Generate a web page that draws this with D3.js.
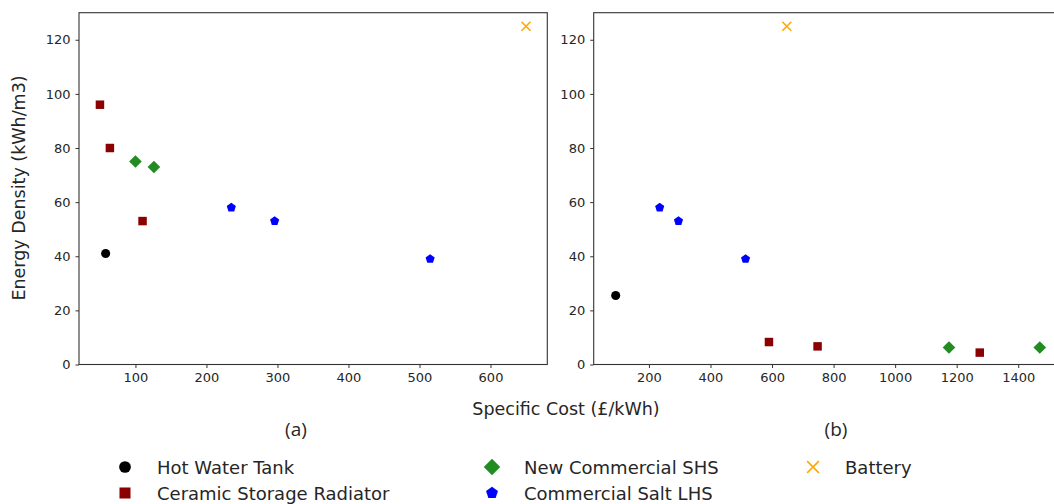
<!DOCTYPE html>
<html>
<head>
<meta charset="utf-8">
<script src="https://cdn.jsdelivr.net/npm/d3@7"></script>
<style>
  html, body { margin: 0; padding: 0; background: #fff; overflow: hidden; }
  svg { display: block; }
  text { font-family: "DejaVu Sans", sans-serif; fill: #262626; }
</style>
</head>
<body>
<svg id="chart" width="1054" height="504"></svg>
<script>
// Storage technologies: specific cost (£/kWh) vs energy density (kWh/m3)
const seriesNames = ["Hot Water Tank", "Ceramic Storage Radiator", "New Commercial SHS", "Commercial Salt LHS", "Battery"];

// Panel (a)
const hotWaterA   = [[58, 41]];
const ceramicA    = [[50, 96], [64, 80], [110, 53]];
const newShsA     = [[100, 75], [126, 73]];
const saltLhsA    = [[235, 58], [296, 53], [515, 39]];
const batteryA    = [[650, 125]];

// Panel (b)
const hotWaterB   = [[92, 25.5]];
const ceramicB    = [[590, 8.3], [748, 6.7], [1275, 4.4]];
const newShsB     = [[1175, 6.3], [1470, 6.3]];
const saltLhsB    = [[235, 58], [296, 53], [514, 39]];
const batteryB    = [[648, 125]];

const xTicksA = [100, 200, 300, 400, 500, 600];
const xTicksB = [200, 400, 600, 800, 1000, 1200, 1400];
const yTicks  = [0, 20, 40, 60, 80, 100, 120];

const colors  = ["#000000", "#8b0000", "#228b22", "#0000ff", "#ffa500"];
const symbols = ["circle", "square", "diamond", "pentagon", "x"];

const svg = d3.select("#chart");

function pentagonPath(r) {
  const pts = d3.range(5).map(i => {
    const a = -Math.PI / 2 + i * 2 * Math.PI / 5;
    return [r * Math.cos(a), r * Math.sin(a)];
  });
  return "M" + pts.map(p => p.join(",")).join("L") + "Z";
}

// s scales the marker (1 in the plots, larger in the legend)
function drawMarker(g, k, x, y, s = 1) {
  const col = colors[k];
  const t = `translate(${x},${y})`;
  switch (symbols[k]) {
    case "circle":
      g.append("path").attr("d", d3.symbol().type(d3.symbolCircle).size(64 * s * s)())
        .attr("transform", t).attr("fill", col);
      break;
    case "square":
      g.append("path").attr("d", d3.symbol().type(d3.symbolSquare).size(72 * s * s)())
        .attr("transform", t).attr("fill", col);
      break;
    case "diamond":
      g.append("path").attr("d", d3.symbol().type(d3.symbolSquare).size(80 * s * s)())
        .attr("transform", t + " rotate(45)").attr("fill", col);
      break;
    case "pentagon":
      g.append("path").attr("d", pentagonPath(4.8 * s))
        .attr("transform", t).attr("fill", col);
      break;
    default: {
      const r = 4.5 * s;
      g.append("path")
        .attr("d", `M${-r},${-r}L${r},${r}M${-r},${r}L${r},${-r}`)
        .attr("transform", t)
        .attr("stroke", col).attr("stroke-width", 1.5).attr("fill", "none");
    }
  }
}

function panel(left, right, xDomain, xTicks, series) {
  const top = 12.7, bottom = 364.5;
  const x = d3.scaleLinear().domain(xDomain).range([left, right]);
  const y = d3.scaleLinear().domain([0, 130]).range([bottom, top]);
  const g = svg.append("g");

  const xAxis = g.append("g").attr("transform", `translate(0,${bottom})`)
    .call(d3.axisBottom(x).tickValues(xTicks).tickSize(3.5).tickPadding(5).tickFormat(d3.format("d")));
  const yAxis = g.append("g").attr("transform", `translate(${left},0)`)
    .call(d3.axisLeft(y).tickValues(yTicks).tickSize(3.5).tickPadding(5).tickFormat(d3.format("d")));
  [xAxis, yAxis].forEach(a => {
    a.select(".domain").remove();
    a.selectAll(".tick line").attr("stroke", "#333").attr("stroke-width", 1);
    a.selectAll(".tick text").style("font-size", "13px").style("font-family", "DejaVu Sans").attr("fill", "#262626");
  });

  g.append("rect").attr("x", left).attr("y", top)
    .attr("width", right - left).attr("height", bottom - top)
    .attr("fill", "none").attr("stroke", "#333").attr("stroke-width", 1.1);

  series.forEach((pts, k) => {
    pts.forEach(p => drawMarker(g, k, x(p[0]), y(p[1])));
  });
  return x;
}

panel(79, 547.3, [20.5, 680], xTicksA, [hotWaterA, ceramicA, newShsA, saltLhsA, batteryA]);
panel(593.7, 1061, [20.5, 1539], xTicksB, [hotWaterB, ceramicB, newShsB, saltLhsB, batteryB]);

// Axis titles
svg.append("text").attr("x", 566).attr("y", 415).attr("text-anchor", "middle")
  .style("font-size", "17.5px").text("Specific Cost (£/kWh)");
svg.append("text").attr("transform", "translate(25,188) rotate(-90)").attr("text-anchor", "middle")
  .style("font-size", "17.5px").text("Energy Density (kWh/m3)");

// Panel captions
svg.append("text").attr("x", 296).attr("y", 436).attr("text-anchor", "middle")
  .style("font-family", "'Open Sans', sans-serif").style("font-size", "19px").attr("fill", "#111").text("(a)");
svg.append("text").attr("x", 836).attr("y", 436).attr("text-anchor", "middle")
  .style("font-family", "'Open Sans', sans-serif").style("font-size", "19px").attr("fill", "#111").text("(b)");

// Legend
const legendPos = [[125, 467], [125, 493], [492, 467], [492, 493], [813, 467]];
const lg = svg.append("g");
seriesNames.forEach((name, k) => {
  const [lx, ly] = legendPos[k];
  drawMarker(lg, k, lx, ly, 1.3);
  lg.append("text").attr("x", lx + 32).attr("y", ly + 6.5)
    .style("font-size", "18px").attr("fill", "#111").text(name);
});
</script>
</body>
</html>
